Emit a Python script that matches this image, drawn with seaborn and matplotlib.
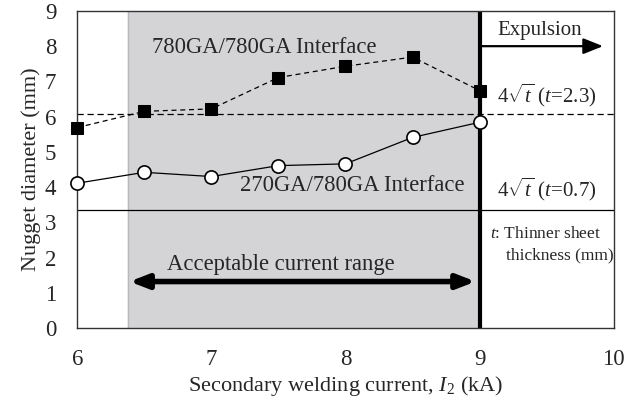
import matplotlib
matplotlib.use("Agg")
import matplotlib.pyplot as plt
import seaborn as sns
import pandas as pd
import numpy as np

current = [6.0, 6.5, 7.0, 7.5, 8.0, 8.5, 9.0]
d_780 = [5.69, 6.15, 6.22, 7.11, 7.43, 7.69, 6.74]
d_270 = [4.11, 4.42, 4.30, 4.61, 4.66, 5.41, 5.84]
limit_23 = 4 * np.sqrt(2.3)
limit_07 = 4 * np.sqrt(0.7)
range_lo, range_hi = 6.38, 9.0

sns.set_theme(style="white")
plt.rcParams['font.family'] = ['Liberation Serif', 'DejaVu Serif']
plt.rcParams['mathtext.fontset'] = 'custom'
plt.rcParams['mathtext.rm'] = 'Liberation Serif'
plt.rcParams['mathtext.it'] = 'Liberation Serif:italic'

df = pd.DataFrame({"I": current * 2,
                   "d": d_780 + d_270,
                   "s": ["780"] * 7 + ["270"] * 7})

fig = plt.figure(figsize=(6.38, 4.05), dpi=100)
ax = fig.add_axes([0.121, 0.19, 0.841, 0.783])

ax.axvspan(range_lo, range_hi, color="#d4d4d7", zorder=0)
ax.axvline(range_lo, color="#b8b8bc", lw=1.0, zorder=0.5)
ax.axhline(limit_23, color="black", lw=0.9, ls=(0, (5, 3)), zorder=1)
ax.axhline(limit_07, color="black", lw=0.9, zorder=1)

sns.lineplot(data=df[df.s == "780"], x="I", y="d", ax=ax, color="black",
             lw=0.9, ls=(0, (4, 3)), marker="s", markersize=8,
             markerfacecolor="black", markeredgecolor="black", zorder=3,
             clip_on=False)
sns.lineplot(data=df[df.s == "270"], x="I", y="d", ax=ax, color="black",
             lw=0.9, marker="o", markersize=9.5, markerfacecolor="white",
             markeredgecolor="black", markeredgewidth=1.2, zorder=3,
             clip_on=False)
ax.axvline(range_hi, color="black", lw=3.0, zorder=2)

ax.annotate("", xy=(9.92, 8.0), xytext=(9.0, 8.0),
            arrowprops=dict(arrowstyle="-|>,head_length=1.0,head_width=0.4",
                            color="black", lw=1.6, shrinkA=0, shrinkB=0))
ax.annotate("", xy=(range_lo + 0.01, 1.32), xytext=(8.97, 1.32),
            arrowprops=dict(arrowstyle="<|-|>,head_length=0.9,head_width=0.35",
                            color="black", lw=4, shrinkA=0, shrinkB=0))

fs = 15
fl = 16.3
ax.text(9.13, 8.45, "Expulsion", fontsize=fs, va="center", ha="left")
ax.text(9.13, 6.6, r"4$\sqrt{t}$ ($t$=2.3)", fontsize=fs, va="center", ha="left")
ax.text(9.13, 3.93, r"4$\sqrt{t}$ ($t$=0.7)", fontsize=fs, va="center", ha="left")
ax.text(9.08, 2.68, r"$t$: Thinner sheet", fontsize=12.5, va="center", ha="left")
ax.text(9.2, 2.07, "thickness (mm)", fontsize=12.5, va="center", ha="left")
ax.text(6.56, 7.97, "780GA/780GA Interface", fontsize=fl, va="center", ha="left")
ax.text(7.21, 4.05, "270GA/780GA Interface", fontsize=fl, va="center", ha="left")
ax.text(7.52, 1.8, "Acceptable current range", fontsize=fl, va="center", ha="center")

ax.set_xlim(6, 10)
ax.set_ylim(0, 9)
ax.set_xticks([6, 7, 8, 9, 10])
ax.set_yticks(range(10))
ax.tick_params(direction="in", width=0.8, labelsize=16.5, color="#444444")
ax.tick_params(axis="x", pad=15, length=4)
ax.tick_params(axis="y", pad=15, length=6.5)
ax.set_xlabel(r"Secondary welding current, $I_2$ (kA)", fontsize=16, labelpad=3)
ax.set_ylabel("Nugget diameter (mm)", fontsize=16, labelpad=3)
for sp in ax.spines.values():
    sp.set_color("#333333")
    sp.set_linewidth(1.0)

fig.savefig("out.png", dpi=100)
